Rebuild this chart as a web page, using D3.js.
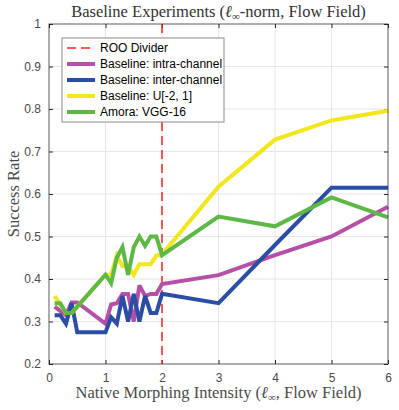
<!DOCTYPE html>
<html>
<head>
<meta charset="utf-8">
<script src="https://cdn.jsdelivr.net/npm/d3@7"></script>
<style>
  body { margin: 0; background: #fff; }
  svg { display: block; }
</style>
</head>
<body>
<div id="chart"></div>
<script>
// Data
const intensity = [0.1, 0.2, 0.3, 0.4, 0.5, 1.0, 1.1, 1.2, 1.3, 1.4, 1.5, 1.6, 1.7, 1.8, 1.9, 2.0, 3, 4, 5, 6];
const intraChannel = [0.335, 0.325, 0.315, 0.345, 0.345, 0.295, 0.34, 0.343, 0.365, 0.365, 0.30, 0.385, 0.36, 0.365, 0.365, 0.388, 0.409, 0.456, 0.50, 0.57];
const interChannel = [0.315, 0.315, 0.295, 0.343, 0.275, 0.275, 0.31, 0.295, 0.36, 0.30, 0.365, 0.30, 0.36, 0.32, 0.32, 0.365, 0.343, 0.48, 0.615, 0.615];
const uniform = [0.36, 0.34, 0.32, 0.32, 0.335, 0.41, 0.41, 0.455, 0.43, 0.43, 0.41, 0.435, 0.435, 0.435, 0.455, 0.458, 0.617, 0.728, 0.773, 0.796];
const amora = [0.343, 0.343, 0.32, 0.32, 0.335, 0.41, 0.39, 0.45, 0.475, 0.41, 0.475, 0.50, 0.478, 0.50, 0.50, 0.456, 0.547, 0.524, 0.592, 0.545];
const seriesNames = ["Baseline: intra-channel", "Baseline: inter-channel", "Baseline: U[-2, 1]", "Amora: VGG-16"];
const seriesColors = ["#B64FA6", "#2B4DA3", "#F2E61C", "#5DB845"];
const dividerX = 2;
const xTicks = [0, 1, 2, 3, 4, 5, 6];
const yTicks = [0.2, 0.3, 0.4, 0.5, 0.6, 0.7, 0.8, 0.9, 1];

const W = 399, H = 410;
const margin = {top: 24, right: 11, bottom: 46, left: 49},
    width = W - margin.left - margin.right,
    height = H - margin.top - margin.bottom;

const svg = d3.select("#chart")
    .append("svg")
        .attr("width", W)
        .attr("height", H);
const g = svg.append("g")
    .attr("transform", "translate(" + margin.left + "," + margin.top + ")");

const x = d3.scaleLinear().domain([0, 6]).range([0, width]);
const y = d3.scaleLinear().domain([0.2, 1]).range([height, 0]);

const axisColor = "#262626";
const sans = "'Liberation Sans', Arial, sans-serif";
const serif = "'Liberation Serif', 'Times New Roman', serif";

// Grid
g.append("g")
    .selectAll("line")
    .data(xTicks.slice(1, -1))
    .join("line")
        .attr("x1", d => x(d)).attr("x2", d => x(d))
        .attr("y1", 0).attr("y2", height)
        .attr("stroke", "#e6e6e6");
g.append("g")
    .selectAll("line")
    .data(yTicks.slice(1, -1))
    .join("line")
        .attr("x1", 0).attr("x2", width)
        .attr("y1", d => y(d)).attr("y2", d => y(d))
        .attr("stroke", "#e6e6e6");

// Axes (ticks inside, box on)
function styleAxis(sel) {
    sel.select(".domain").remove();
    sel.selectAll(".tick line").attr("stroke", axisColor);
    sel.selectAll(".tick text").attr("fill", "#4a4a4a").attr("font-family", sans).attr("font-size", 12);
}
g.append("g")
    .attr("transform", "translate(0," + height + ")")
    .call(d3.axisBottom(x).tickValues(xTicks).tickSize(-4).tickPadding(9).tickFormat(d3.format("~g")))
    .call(styleAxis);
g.append("g")
    .call(d3.axisTop(x).tickValues(xTicks).tickSize(-4).tickFormat(""))
    .call(styleAxis);
g.append("g")
    .call(d3.axisLeft(y).tickValues(yTicks).tickSize(-4).tickPadding(8).tickFormat(d3.format("~g")))
    .call(styleAxis);
g.append("g")
    .attr("transform", "translate(" + width + ",0)")
    .call(d3.axisRight(y).tickValues(yTicks).tickSize(-4).tickFormat(""))
    .call(styleAxis);

// Divider
g.append("line")
    .attr("x1", x(dividerX)).attr("x2", x(dividerX))
    .attr("y1", 0).attr("y2", height)
    .attr("stroke", "#FF1F1F")
    .attr("stroke-width", 1.5)
    .attr("stroke-dasharray", "9,5");

// Lines
const allSeries = [intraChannel, interChannel, uniform, amora];
const line = d3.line()
    .x((d, i) => x(intensity[i]))
    .y(d => y(d));
allSeries.forEach((vals, k) => {
    g.append("path")
        .datum(vals)
        .attr("fill", "none")
        .attr("stroke", seriesColors[k])
        .attr("stroke-width", 4)
        .attr("stroke-linejoin", "miter")
        .attr("stroke-miterlimit", 3)
        .attr("d", line);
});

// Box
g.append("rect")
    .attr("width", width).attr("height", height)
    .attr("fill", "none")
    .attr("stroke", axisColor)
    .attr("stroke-opacity", 0.75)
    .attr("stroke-width", 1);

// Legend
const leg = g.append("g").attr("transform", "translate(13,14)");
leg.append("rect")
    .attr("width", 162).attr("height", 84)
    .attr("fill", "#fff")
    .attr("stroke", "#8a8a8a")
    .attr("stroke-width", 1);
const legItems = [{name: "ROO Divider", color: "#FF1F1F", dash: true}]
    .concat(seriesNames.map((n, i) => ({name: n, color: seriesColors[i], dash: false})));
legItems.forEach((d, i) => {
    const yy = 10 + i * 16;
    leg.append("line")
        .attr("x1", 5).attr("x2", 33)
        .attr("y1", yy).attr("y2", yy)
        .attr("stroke", d.color)
        .attr("stroke-width", d.dash ? 1.5 : 4)
        .attr("stroke-dasharray", d.dash ? "9,5" : null);
    leg.append("text")
        .attr("x", 38).attr("y", yy + 4)
        .attr("font-family", sans).attr("font-size", 12)
        .attr("fill", "#000")
        .text(d.name);
});

// Title and axis labels
const title = svg.append("text")
    .attr("x", margin.left + width / 2).attr("y", 17)
    .attr("text-anchor", "middle")
    .attr("font-family", serif).attr("font-size", 16.5)
    .attr("fill", "#333");
title.append("tspan").text("Baseline Experiments (");
title.append("tspan").attr("font-style", "italic").text("ℓ");
title.append("tspan").attr("font-size", 11).attr("dy", 3).text("∞");
title.append("tspan").attr("dy", -3).text("-norm, Flow Field)");

const xlab = svg.append("text")
    .attr("x", margin.left + width / 2).attr("y", 398)
    .attr("text-anchor", "middle")
    .attr("font-family", serif).attr("font-size", 16.5)
    .attr("fill", "#4a4a4a");
xlab.append("tspan").text("Native Morphing Intensity (");
xlab.append("tspan").attr("font-style", "italic").text("ℓ");
xlab.append("tspan").attr("font-size", 11).attr("dy", 3).text("∞");
xlab.append("tspan").attr("dy", -3).text(", Flow Field)");

svg.append("text")
    .attr("transform", "translate(19," + (margin.top + height / 2) + ") rotate(-90)")
    .attr("text-anchor", "middle")
    .attr("font-family", serif).attr("font-size", 16.5)
    .attr("fill", "#4a4a4a")
    .text("Success Rate");
</script>
</body>
</html>
